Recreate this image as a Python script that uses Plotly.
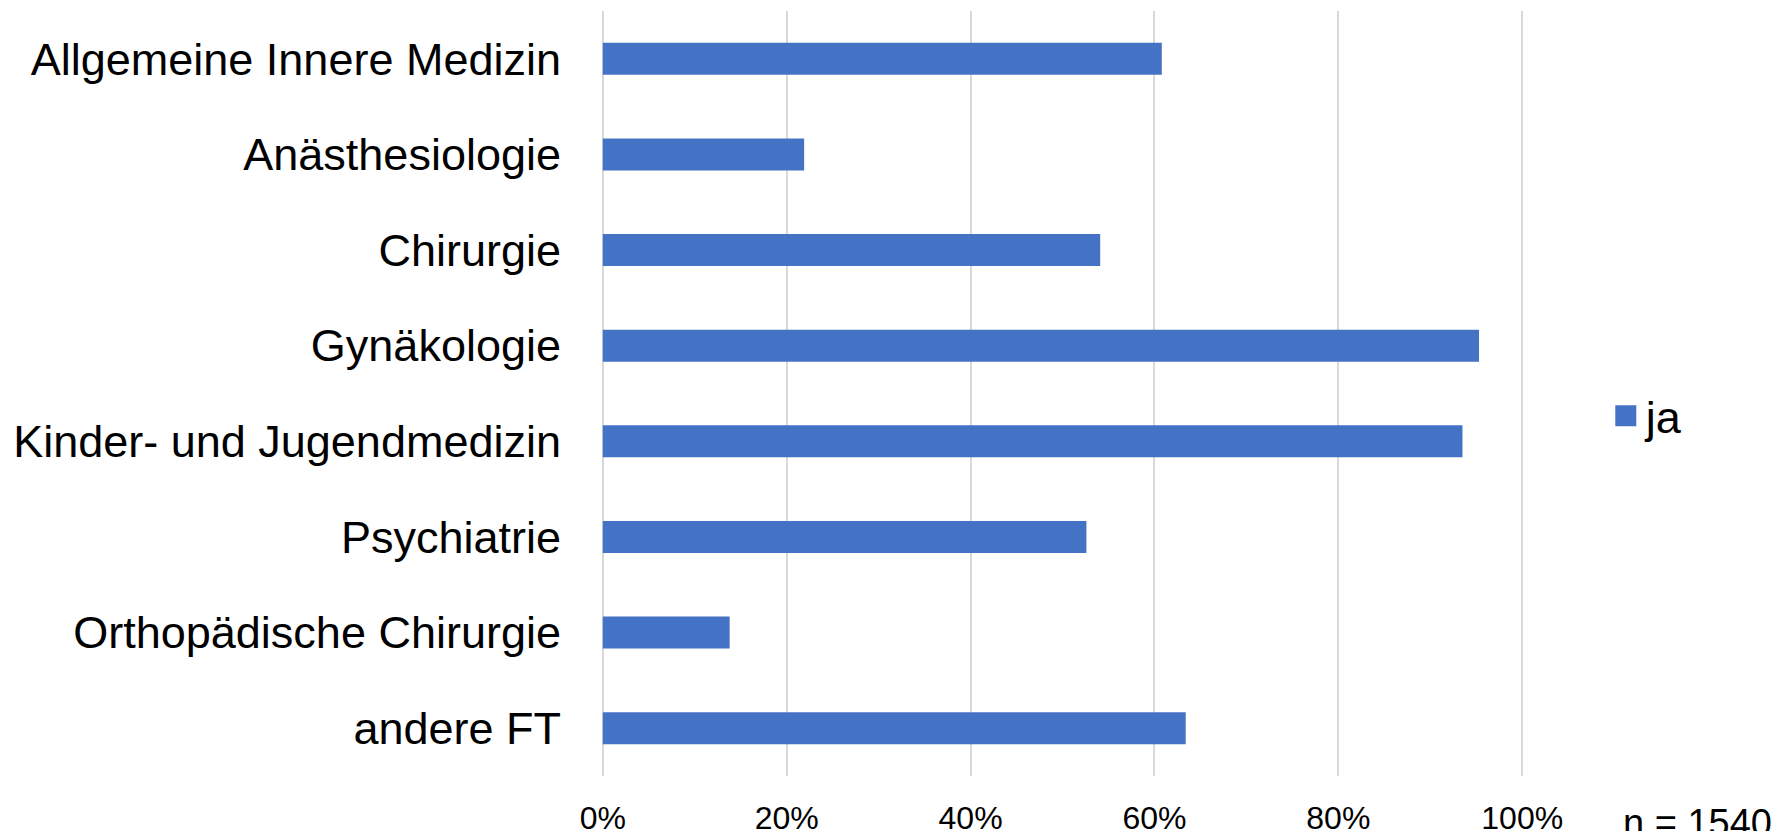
import plotly.graph_objects as go

categories = [
    "Allgemeine Innere Medizin",
    "Anästhesiologie",
    "Chirurgie",
    "Gynäkologie",
    "Kinder- und Jugendmedizin",
    "Psychiatrie",
    "Orthopädische Chirurgie",
    "andere FT",
]
ja_values = [0.608, 0.219, 0.541, 0.953, 0.935, 0.526, 0.138, 0.634]
tick_vals = [0, 0.2, 0.4, 0.6, 0.8, 1.0]
tick_text = ["0%", "20%", "40%", "60%", "80%", "100%"]
series_name = "ja"
note_text = "n = 1540"

BLUE = "#4472C4"
FONT = "Liberation Sans, Arial, sans-serif"

# plot area (pixels): 0% at x=603, 100% at x=1522, top y=11, bottom y=776
X0, X1, YT, YB = 603, 1522, 11, 776
EPS = 0.003
PX = (X1 - X0)  # pixels per unit
L = X0 - EPS * PX
R = 1792 - (X1 + EPS * PX)

fig = go.Figure()
fig.add_trace(go.Bar(
    y=categories, x=ja_values, orientation="h",
    marker=dict(color=BLUE, line=dict(width=0)),
    name=series_name, showlegend=False,
))
# legend-only entry
fig.add_trace(go.Scatter(
    x=[None], y=[None], mode="markers", name=series_name,
    marker=dict(symbol="square", size=16, color=BLUE,
                line=dict(color=BLUE, width=5)),
    showlegend=True,
))

fig.update_layout(
    width=1792, height=831,
    margin=dict(l=L, r=R, t=YT, b=831 - YB, pad=0, autoexpand=False),
    paper_bgcolor="white", plot_bgcolor="white",
    bargap=0.665,
    font=dict(family=FONT, color="black"),
    legend=dict(
        x=(1605.5 - L) / (1792 - L - R), xanchor="left",
        y=(YB - 416) / (YB - YT), yanchor="middle",
        font=dict(size=45, family=FONT, color="black"),
        bgcolor="rgba(0,0,0,0)", borderwidth=0,
    ),
    xaxis=dict(
        range=[-EPS, 1 + EPS], tickvals=tick_vals, ticktext=tick_text,
        showgrid=True, gridcolor="#d9d9d9", gridwidth=2,
        zeroline=False, showline=False, ticks="",
        tickfont=dict(size=32, family=FONT, color="black"),
        ticklabelstandoff=20, automargin=False,
        fixedrange=True,
    ),
    yaxis=dict(
        categoryorder="array", categoryarray=categories,
        autorange="reversed",
        showgrid=False, zeroline=False, showline=False, ticks="",
        tickfont=dict(size=45, family=FONT, color="black"),
        ticklabelstandoff=38, automargin=False,
        fixedrange=True,
    ),
    annotations=[dict(
        text=note_text, xref="paper", yref="paper",
        x=(1621 - L) / (1792 - L - R), xanchor="left",
        y=(YB - 800) / (YB - YT), yanchor="top",
        showarrow=False, font=dict(size=38, family=FONT, color="black"),
    )],
)

fig.write_html(
    "out.html",
    config=dict(displayModeBar=False),
    post_script="document.body.style.margin='0';document.body.style.overflow='hidden';",
)
